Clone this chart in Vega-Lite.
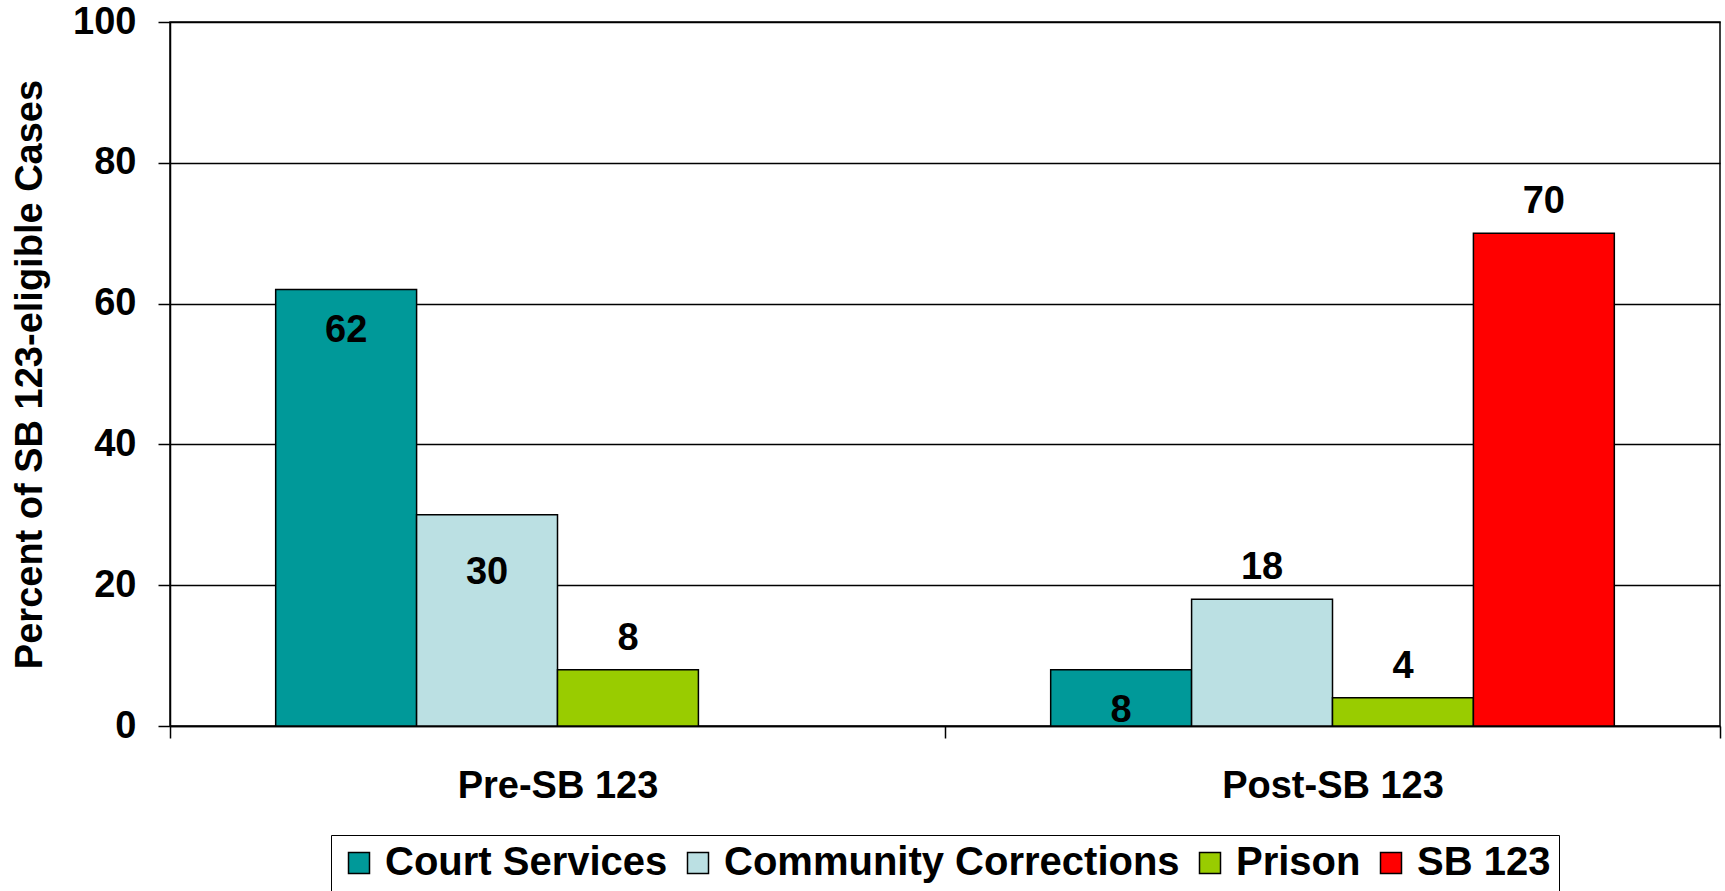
{
  "$schema": "https://vega.github.io/schema/vega-lite/v6.json",
  "width": 1550,
  "height": 704,
  "autosize": {"type": "none"},
  "padding": {"left": 170, "top": 22, "right": 5, "bottom": 165},
  "background": "white",
  "config": {
    "font": "Liberation Sans",
    "view": {"stroke": "black", "strokeWidth": 1.5},
    "legend": {"layout": {"bottom": {"anchor": "middle"}}},
    "axis": {
      "labelFont": "Liberation Sans",
      "labelFontWeight": "bold",
      "labelFontSize": 38,
      "labelColor": "black",
      "labelLimit": 0,
      "titleFont": "Liberation Sans",
      "titleFontWeight": "bold",
      "titleFontSize": 38,
      "titleColor": "black",
      "domainColor": "black",
      "domainWidth": 1.5,
      "tickColor": "black",
      "tickWidth": 1.5,
      "tickSize": 12
    }
  },
  "data": {
    "values": [
      {"period": "Pre-SB 123", "placement": "Court Services", "percent": 62},
      {"period": "Pre-SB 123", "placement": "Community Corrections", "percent": 30},
      {"period": "Pre-SB 123", "placement": "Prison", "percent": 8},
      {"period": "Post-SB 123", "placement": "Court Services", "percent": 8},
      {"period": "Post-SB 123", "placement": "Community Corrections", "percent": 18},
      {"period": "Post-SB 123", "placement": "Prison", "percent": 4},
      {"period": "Post-SB 123", "placement": "SB 123", "percent": 70}
    ]
  },
  "encoding": {
    "x": {
      "field": "period",
      "type": "nominal",
      "sort": ["Pre-SB 123", "Post-SB 123"],
      "scale": {"paddingInner": 0, "paddingOuter": 0},
      "axis": {
        "title": null,
        "labelAngle": 0,
        "labelPadding": 29,
        "labelLimit": 0,
        "tickBand": "extent",
        "grid": false
      }
    },
    "xOffset": {
      "field": "placement",
      "type": "nominal",
      "scale": {
        "domain": ["Court Services", "Community Corrections", "Prison", "SB 123"],
        "paddingInner": 0,
        "paddingOuter": 0.75
      }
    },
    "y": {
      "field": "percent",
      "type": "quantitative",
      "scale": {"domain": [0, 100], "nice": false},
      "axis": {
        "title": "Percent of SB 123-eligible Cases",
        "values": [0, 20, 40, 60, 80, 100],
        "grid": true,
        "gridColor": "black",
        "gridWidth": 1.3,
        "gridOpacity": 1,
        "labelPadding": 22,
        "titlePadding": 23
      }
    }
  },
  "layer": [
    {
      "mark": {"type": "bar", "stroke": "black", "strokeWidth": 1.5},
      "encoding": {
        "color": {
          "field": "placement",
          "type": "nominal",
          "scale": {
            "domain": ["Court Services", "Community Corrections", "Prison", "SB 123"],
            "range": ["#009999", "#BBE0E3", "#99CC00", "#FF0000"]
          },
          "legend": {
            "title": null,
            "orient": "bottom",
            "direction": "horizontal",
            "columns": 4,
            "symbolType": "square",
            "symbolSize": 441,
            "symbolStrokeColor": "black",
            "symbolStrokeWidth": 1.5,
            "symbolOpacity": 1,
            "labelFont": "Liberation Sans",
            "labelFontWeight": "bold",
            "labelFontSize": 40,
            "labelColor": "black",
            "labelOffset": 6,
            "labelLimit": 0,
            "columnPadding": 10,
            "padding": 8,
            "strokeColor": "black",
            "offset": 30
          }
        }
      }
    },
    {
      "transform": [
        {"filter": "datum.percent === 8 && datum.period === 'Pre-SB 123' || datum.percent === 18 || datum.percent === 4 || datum.percent === 70"}
      ],
      "mark": {
        "type": "text",
        "baseline": "alphabetic",
        "align": "center",
        "dy": -20,
        "font": "Liberation Sans",
        "fontWeight": "bold",
        "fontSize": 38,
        "color": "black"
      },
      "encoding": {"text": {"field": "percent", "type": "quantitative"}}
    },
    {
      "transform": [
        {"filter": "datum.percent === 62 || (datum.percent === 8 && datum.period === 'Post-SB 123')"}
      ],
      "mark": {
        "type": "text",
        "baseline": "alphabetic",
        "align": "center",
        "dy": 52,
        "font": "Liberation Sans",
        "fontWeight": "bold",
        "fontSize": 38,
        "color": "black"
      },
      "encoding": {"text": {"field": "percent", "type": "quantitative"}}
    },
    {
      "transform": [
        {"filter": "datum.percent === 30"}
      ],
      "mark": {
        "type": "text",
        "baseline": "alphabetic",
        "align": "center",
        "dy": 69,
        "font": "Liberation Sans",
        "fontWeight": "bold",
        "fontSize": 38,
        "color": "black"
      },
      "encoding": {"text": {"field": "percent", "type": "quantitative"}}
    }
  ]
}
